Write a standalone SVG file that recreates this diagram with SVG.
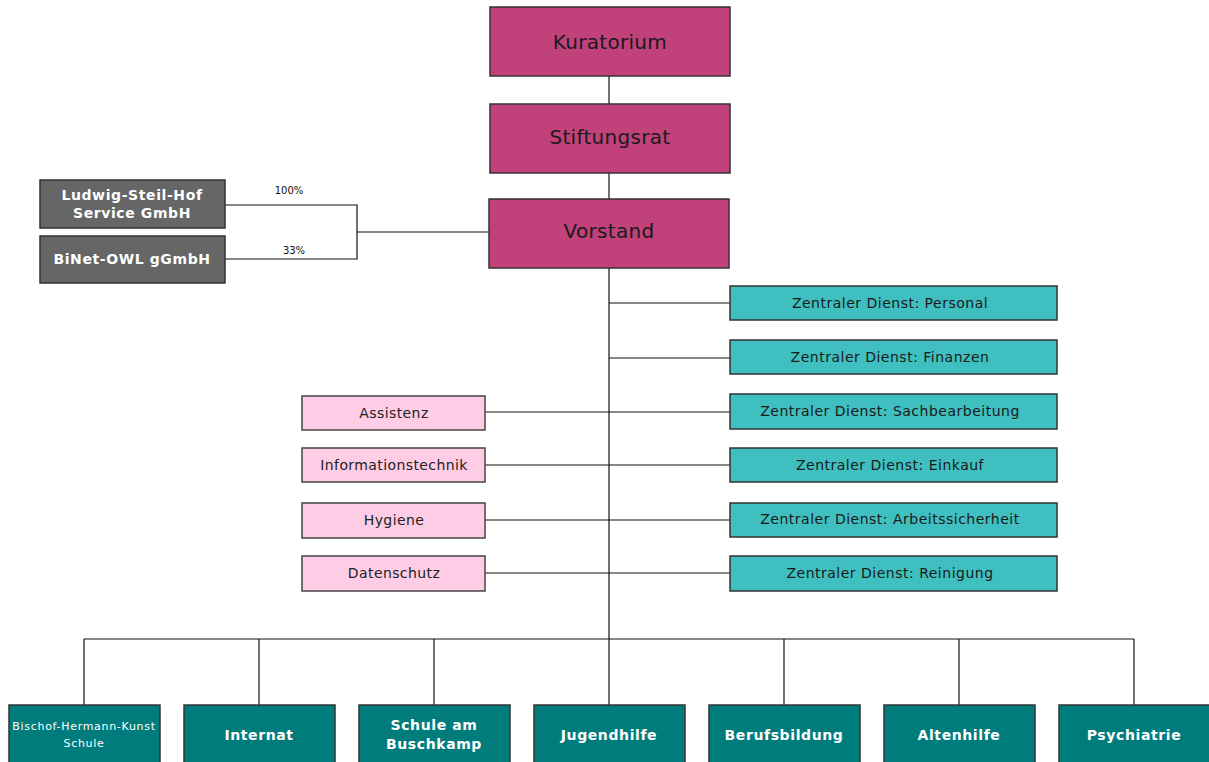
<svg xmlns="http://www.w3.org/2000/svg" width="1209" height="762" viewBox="0 0 1209 762">
<style>
.bg{fill:#ffffff}
.top{fill:#C1417B;stroke:#333333;stroke-width:1.5}
.gray{fill:#666666;stroke:#333333;stroke-width:1.5}
.pink{fill:#FFCCE5;stroke:#444444;stroke-width:1.5}
.cyan{fill:#3FBFBF;stroke:#333333;stroke-width:1.5}
.dteal{fill:#007C7C;stroke:#333333;stroke-width:1.5}
.line{stroke:#111111;stroke-width:1.2;fill:none}
text{font-family:"DejaVu Sans",Verdana,sans-serif;text-anchor:middle;dominant-baseline:central}
.tt{font-size:20px;fill:#1a1a1a;letter-spacing:0.3px}
.gt{font-size:14px;fill:#ffffff;font-weight:bold;letter-spacing:0.6px}
.pt{font-size:14px;fill:#222222;letter-spacing:0.4px}
.ct{font-size:14px;fill:#1a1a1a;letter-spacing:0.5px}
.bt{font-size:14px;fill:#ffffff;font-weight:bold;letter-spacing:0.6px}
.st{font-size:11px;fill:#ffffff;letter-spacing:0.7px}
.pc{font-size:10px;fill:#111111}
</style>
<rect class="bg" x="0" y="0" width="1209" height="762"/>
<g id="connectors">
<line class="line" x1="609" y1="76" x2="609" y2="104"/>
<line class="line" x1="609" y1="173" x2="609" y2="199"/>
<polyline class="line" points="225,205 357,205 357,259 225,259"/>
<line class="line" x1="357" y1="232" x2="489" y2="232"/>
<line class="line" x1="609" y1="268" x2="609" y2="705"/>
<line class="line" x1="609" y1="303" x2="730" y2="303"/>
<line class="line" x1="609" y1="358" x2="730" y2="358"/>
<line class="line" x1="485" y1="412" x2="730" y2="412"/>
<line class="line" x1="485" y1="465" x2="730" y2="465"/>
<line class="line" x1="485" y1="520" x2="730" y2="520"/>
<line class="line" x1="485" y1="573" x2="730" y2="573"/>
<line class="line" x1="84" y1="639" x2="1134" y2="639"/>
<line class="line" x1="84" y1="639" x2="84" y2="705"/>
<line class="line" x1="259" y1="639" x2="259" y2="705"/>
<line class="line" x1="434" y1="639" x2="434" y2="705"/>
<line class="line" x1="784" y1="639" x2="784" y2="705"/>
<line class="line" x1="959" y1="639" x2="959" y2="705"/>
<line class="line" x1="1134" y1="639" x2="1134" y2="705"/>
<text class="pc" x="289" y="190">100%</text>
<text class="pc" x="294" y="250">33%</text>
</g>
<g id="kuratorium"><rect class="top" x="490" y="7" width="240" height="69"/><text class="tt" x="610" y="42">Kuratorium</text></g>
<g id="stiftungsrat"><rect class="top" x="490" y="104" width="240" height="69"/><text class="tt" x="610" y="137">Stiftungsrat</text></g>
<g id="vorstand"><rect class="top" x="489" y="199" width="240" height="69"/><text class="tt" x="609" y="231">Vorstand</text></g>
<g id="ludwig"><rect class="gray" x="40" y="180" width="185" height="48"/><text class="gt" x="132" y="195">Ludwig-Steil-Hof</text><text class="gt" x="132" y="213">Service GmbH</text></g>
<g id="binet"><rect class="gray" x="40" y="236" width="185" height="47"/><text class="gt" x="132" y="259">BiNet-OWL gGmbH</text></g>
<g id="personal"><rect class="cyan" x="730" y="286" width="327" height="34"/><text class="ct" x="890" y="303">Zentraler Dienst: Personal</text></g>
<g id="finanzen"><rect class="cyan" x="730" y="340" width="327" height="34"/><text class="ct" x="890" y="357">Zentraler Dienst: Finanzen</text></g>
<g id="sachbearbeitung"><rect class="cyan" x="730" y="394" width="327" height="35"/><text class="ct" x="890" y="411">Zentraler Dienst: Sachbearbeitung</text></g>
<g id="einkauf"><rect class="cyan" x="730" y="448" width="327" height="34"/><text class="ct" x="890" y="465">Zentraler Dienst: Einkauf</text></g>
<g id="arbeitssicherheit"><rect class="cyan" x="730" y="503" width="327" height="34"/><text class="ct" x="890" y="519">Zentraler Dienst: Arbeitssicherheit</text></g>
<g id="reinigung"><rect class="cyan" x="730" y="556" width="327" height="35"/><text class="ct" x="890" y="573">Zentraler Dienst: Reinigung</text></g>
<g id="assistenz"><rect class="pink" x="302" y="396" width="183" height="34"/><text class="pt" x="394" y="413">Assistenz</text></g>
<g id="informationstechnik"><rect class="pink" x="302" y="448" width="183" height="34"/><text class="pt" x="394" y="465">Informationstechnik</text></g>
<g id="hygiene"><rect class="pink" x="302" y="503" width="183" height="35"/><text class="pt" x="394" y="520">Hygiene</text></g>
<g id="datenschutz"><rect class="pink" x="302" y="556" width="183" height="35"/><text class="pt" x="394" y="573">Datenschutz</text></g>
<g id="bischof"><rect class="dteal" x="9" y="705" width="151" height="60"/><text class="st" x="84" y="726">Bischof-Hermann-Kunst</text><text class="st" x="84" y="743">Schule</text></g>
<g id="internat"><rect class="dteal" x="184" y="705" width="151" height="60"/><text class="bt" x="259" y="735">Internat</text></g>
<g id="schule"><rect class="dteal" x="359" y="705" width="151" height="60"/><text class="bt" x="434" y="725">Schule am</text><text class="bt" x="434" y="744">Buschkamp</text></g>
<g id="jugendhilfe"><rect class="dteal" x="534" y="705" width="151" height="60"/><text class="bt" x="609" y="735">Jugendhilfe</text></g>
<g id="berufsbildung"><rect class="dteal" x="709" y="705" width="151" height="60"/><text class="bt" x="784" y="735">Berufsbildung</text></g>
<g id="altenhilfe"><rect class="dteal" x="884" y="705" width="151" height="60"/><text class="bt" x="959" y="735">Altenhilfe</text></g>
<g id="psychiatrie"><rect class="dteal" x="1059" y="705" width="151" height="60"/><text class="bt" x="1134" y="735">Psychiatrie</text></g>
</svg>
